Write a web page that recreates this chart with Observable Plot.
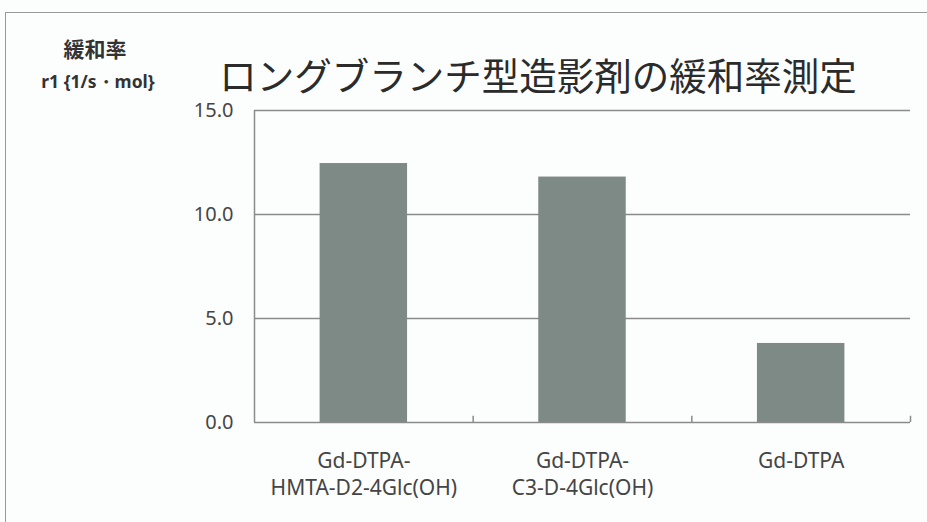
<!DOCTYPE html>
<html>
<head>
<meta charset="utf-8">
<script src="https://cdn.jsdelivr.net/npm/d3@7"></script>
<script src="https://cdn.jsdelivr.net/npm/@observablehq/plot@0.6"></script>
<style>
  html, body { margin: 0; padding: 0; background: #fff; }
  #wrap { position: relative; width: 927px; height: 522px; overflow: hidden; background: #fcfefe; }
  #border { position: absolute; left: 5px; top: 12px; width: 930px; height: 520px; border-left: 1.5px solid #9a9a9a; border-top: 1.5px solid #9a9a9a; }
  .t { position: absolute; white-space: nowrap; color: #333; font-family: "Noto Sans CJK JP", "Noto Sans", sans-serif; line-height: 1; }
  #chart { position: absolute; left: 0; top: 0; }
</style>
</head>
<body>
<div id="wrap">
  <div id="border"></div>
  <div id="chart"></div>
  <div class="t" id="title" style="left:538px; top:55px; height:36px; transform:translateX(-50%); font-size:37.5px; font-weight:400; color:#2b2b2b;">ロングブランチ型造影剤の緩和率測定</div>
  <div class="t" style="left:95px; top:38px; transform:translateX(-50%); font-size:21px; font-weight:700; color:#333;">緩和率</div>
  <div class="t" style="left:98px; top:73px; transform:translateX(-50%); font-size:17.5px; font-weight:700; color:#333; font-family:'Noto Sans', sans-serif;">r1 {1/s・mol}</div>
</div>
<script>
const categories = ["Gd-DTPA-\nHMTA-D2-4Glc(OH)", "Gd-DTPA-\nC3-D-4Glc(OH)", "Gd-DTPA"];
const values = [12.45, 11.8, 3.8];
const yTicks = [0, 5, 10, 15];

const data = categories.map((name, i) => ({name, value: values[i], i}));
const boundaries = d3.range(1, categories.length + 1);

const plot = Plot.plot({
  width: 927,
  height: 522,
  marginTop: 110,
  marginBottom: 100,
  marginLeft: 254,
  marginRight: 17,
  style: {background: "transparent", color: "#454545", fontFamily: "'Noto Sans', sans-serif"},
  x: {domain: [0, categories.length], axis: null},
  y: {domain: [0, 15], axis: null},
  marks: [
    Plot.ruleY(yTicks.filter(d => d > 0), {stroke: "#8a8a8a", strokeWidth: 1.5}),
    Plot.rectY(data, {x1: d => d.i + 0.3, x2: d => d.i + 0.7, y: "value", fill: "#7e8a86"}),
    Plot.ruleY([0], {stroke: "#8a8a8a", strokeWidth: 1.5}),
    Plot.ruleX([0], {stroke: "#8a8a8a", strokeWidth: 1.5}),
    Plot.ruleX(boundaries, {y1: 0, y2: 0.3, stroke: "#8a8a8a", strokeWidth: 1.5}),
    Plot.axisY({ticks: yTicks, tickFormat: d3.format(".1f"), tickSize: 0, tickPadding: 21, fontSize: 20, label: null}),
    Plot.text(data, {x: d => d.i + 0.5, y: 0, text: "name", dy: 26, lineAnchor: "top", lineHeight: 1.3, fontSize: 21, fill: "#454545"})
  ]
});
document.getElementById("chart").appendChild(plot);
</script>
</body>
</html>
